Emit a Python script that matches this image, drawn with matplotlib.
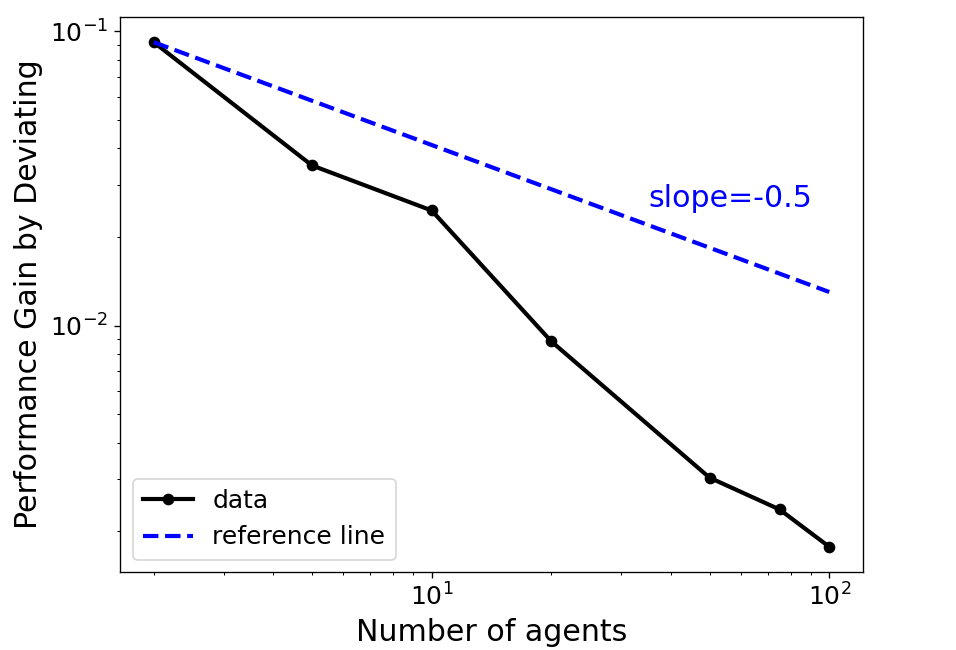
import matplotlib
matplotlib.use("Agg")
import matplotlib.pyplot as plt

# values
n_agents = [2, 5, 10, 20, 50, 75, 100]
gain = [0.0918, 0.0350, 0.0246, 0.00883, 0.00304, 0.00237, 0.00177]

# reference line of slope -0.5, given by its two end points
ref_x = [2, 100]
ref_y = [0.0918, 0.0130]

slope_text = "slope=-0.5"
slope_pos = (35, 0.0252)

fig = plt.figure(figsize=(956 / 120, 650 / 120), dpi=120)
ax = fig.add_axes([120 / 956, 1 - 572 / 650, (863 - 120) / 956, (572 - 17) / 650])

ax.plot(n_agents, gain, 'k-', marker='o', linewidth=2.5, markersize=6, label='data')
ax.plot(ref_x, ref_y, '--', color='blue', linewidth=2.5, label='reference line')
ax.text(slope_pos[0], slope_pos[1], slope_text, color='blue', fontsize=18)

ax.set_xscale('log')
ax.set_yscale('log')
ax.set_xlabel('Number of agents', fontsize=18)
ax.set_ylabel('Performance Gain by Deviating', fontsize=18)
ax.tick_params(labelsize=15)
ax.legend(loc='lower left', fontsize=15)

fig.savefig('out.png', dpi=120)
